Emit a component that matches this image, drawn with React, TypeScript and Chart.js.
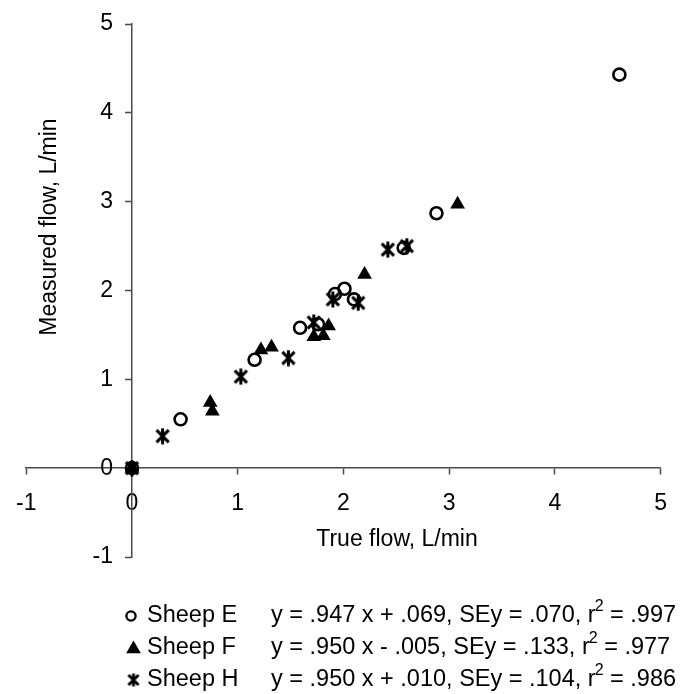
import React, { useEffect, useRef } from 'react';
import { Chart, registerables } from 'chart.js';

Chart.register(...registerables);

// ---- Data ----
const sheepEX = [0, 0.46, 1.16, 1.59, 1.76, 1.92, 2.01, 2.10, 2.57, 2.88, 4.61];
const sheepEY = [0, 0.55, 1.22, 1.58, 1.62, 1.96, 2.02, 1.90, 2.48, 2.87, 4.43];
const sheepFX = [0, 0.74, 0.76, 1.22, 1.32, 1.72, 1.81, 1.86, 2.20, 3.08];
const sheepFY = [0, 0.74, 0.64, 1.33, 1.36, 1.48, 1.49, 1.60, 2.18, 2.97];
const sheepHX = [0, 0.29, 1.03, 1.48, 1.72, 1.90, 2.14, 2.42, 2.60];
const sheepHY = [0, 0.36, 1.03, 1.24, 1.64, 1.90, 1.86, 2.46, 2.50];

const seriesNames = ['Sheep E', 'Sheep F', 'Sheep H'];
const eqPrefix = [
  'y = .947 x + .069, SEy = .070, r',
  'y = .950 x - .005, SEy = .133, r',
  'y = .950 x + .010, SEy = .104, r',
];
const eqSup = ['2', '2', '2'];
const eqSuffix = [' = .997', ' = .977', ' = .986'];

const axisMin = -1;
const axisMax = 5;
const xTitle = 'True flow, L/min';
const yTitle = 'Measured flow, L/min';

const FONT = '"Liberation Sans", Arial, Helvetica, sans-serif';
const FS = 23;
const LFS = 23.5;
const AXIS_COLOR = '#4a4a4a';
const TICK_LEN = 6;

function makeAsterisk(size: number, lw: number): HTMLCanvasElement {
  const c = document.createElement('canvas');
  c.width = size;
  c.height = size;
  const g = c.getContext('2d')!;
  const m = size / 2;
  const d = size * 0.36;
  g.strokeStyle = '#000';
  g.lineWidth = lw;
  g.lineCap = 'butt';
  g.beginPath();
  g.moveTo(m - d, m - d); g.lineTo(m + d, m + d);
  g.moveTo(m + d, m - d); g.lineTo(m - d, m + d);
  g.moveTo(m, 0.5); g.lineTo(m, size - 0.5);
  g.stroke();
  return c;
}

function toPoints(xs: number[], ys: number[]) {
  return xs.map((x, i) => ({ x, y: ys[i] }));
}

export default function App() {
  const ref = useRef<HTMLCanvasElement | null>(null);

  useEffect(() => {
    const canvas = ref.current;
    if (!canvas) return;
    const star = makeAsterisk(17, 3);
    const legendStar = makeAsterisk(14, 2.8);

    const drawMarker = (ctx: CanvasRenderingContext2D, kind: number, x: number, y: number) => {
      ctx.save();
      if (kind === 0) {
        ctx.beginPath();
        ctx.arc(x, y, 4.6, 0, Math.PI * 2);
        ctx.strokeStyle = '#000';
        ctx.lineWidth = 2.3;
        ctx.stroke();
      } else if (kind === 1) {
        const r = 8.5;
        ctx.beginPath();
        for (let k = 0; k < 3; k++) {
          const a = k * (2 * Math.PI / 3);
          const px = x + Math.sin(a) * r;
          const py = y + 1 - Math.cos(a) * r;
          if (k === 0) ctx.moveTo(px, py); else ctx.lineTo(px, py);
        }
        ctx.closePath();
        ctx.fillStyle = '#000';
        ctx.fill();
      } else {
        ctx.drawImage(legendStar, x - 7, y - 7);
      }
      ctx.restore();
    };

    const annotate = {
      id: 'annotate',
      afterDraw(chart: any) {
        const ctx: CanvasRenderingContext2D = chart.ctx;
        const ys = chart.scales.y;
        const xs = chart.scales.x;
        ctx.save();
        ctx.fillStyle = '#000';
        ctx.textBaseline = 'middle';
        // y tick labels, placed from the y scale
        ctx.font = `${FS}px ${FONT}`;
        ctx.textAlign = 'right';
        const axisX = xs.getPixelForValue(0);
        for (const t of ys.ticks) {
          ctx.fillText(String(t.value), axisX - TICK_LEN - 13, ys.getPixelForValue(t.value));
        }
        // axis titles
        ctx.textAlign = 'center';
        ctx.fillText(xTitle, 397, 540);
        ctx.save();
        ctx.translate(50, 227);
        ctx.rotate(-Math.PI / 2);
        ctx.fillText(yTitle, 0, 0);
        ctx.restore();
        // legend
        const rows = [616, 648, 680];
        for (let i = 0; i < 3; i++) {
          const y = rows[i];
          drawMarker(ctx, i, i === 0 ? 131 : 133.5, y);
          ctx.textAlign = 'left';
          ctx.font = `${LFS}px ${FONT}`;
          ctx.fillText(seriesNames[i], 147, y);
          let x = 271;
          ctx.fillText(eqPrefix[i], x, y);
          x += ctx.measureText(eqPrefix[i]).width;
          ctx.font = `${Math.round(LFS * 0.68)}px ${FONT}`;
          ctx.fillText(eqSup[i], x - 1, y - 9);
          x += ctx.measureText(eqSup[i]).width - 1;
          ctx.font = `${LFS}px ${FONT}`;
          ctx.fillText(eqSuffix[i], x, y);
        }
        ctx.restore();
      },
    };

    const chart = new Chart(canvas, {
      type: 'scatter',
      data: {
        datasets: [
          {
            label: seriesNames[0],
            data: toPoints(sheepEX, sheepEY),
            pointStyle: 'circle',
            pointRadius: 6,
            pointBorderWidth: 2.6,
            borderColor: '#000',
            backgroundColor: 'rgba(0,0,0,0)',
          },
          {
            label: seriesNames[1],
            data: toPoints(sheepFX, sheepFY),
            pointStyle: 'triangle',
            pointRadius: 8.5,
            pointBorderWidth: 0,
            borderColor: '#000',
            backgroundColor: '#000',
          },
          {
            label: seriesNames[2],
            data: toPoints(sheepHX, sheepHY),
            pointStyle: star,
            pointRadius: 8,
            borderColor: '#000',
            backgroundColor: '#000',
          },
        ],
      },
      options: {
        responsive: false,
        animation: false,
        events: [],
        layout: { padding: { left: 21, right: 7, top: 24, bottom: 137 } },
        plugins: {
          legend: { display: false },
          tooltip: { enabled: false },
          title: { display: false },
        },
        scales: {
          x: {
            type: 'linear',
            position: { y: 0 },
            min: axisMin,
            max: axisMax,
            ticks: {
              stepSize: 1,
              autoSkip: false,
              color: '#000',
              padding: 16,
              font: { family: FONT, size: FS },
              maxRotation: 0,
            },
            grid: {
              drawOnChartArea: false,
              drawTicks: true,
              tickLength: TICK_LEN,
              tickColor: AXIS_COLOR,
              tickWidth: 1.5,
            },
            border: { display: true, color: AXIS_COLOR, width: 1.5 },
            title: { display: false },
          },
          y: {
            type: 'linear',
            position: { x: 0 },
            min: axisMin,
            max: axisMax,
            ticks: {
              stepSize: 1,
              autoSkip: false,
              display: false,
              font: { family: FONT, size: FS },
            },
            grid: {
              drawOnChartArea: false,
              drawTicks: true,
              tickLength: TICK_LEN,
              tickColor: AXIS_COLOR,
              tickWidth: 1.5,
            },
            border: { display: true, color: AXIS_COLOR, width: 1.5 },
            title: { display: false },
          },
        },
      },
      plugins: [annotate],
    });

    return () => chart.destroy();
  }, []);

  return (
    <div style={{ position: 'absolute', left: 0, top: 0, width: 683, height: 694, background: '#fff' }}>
      <canvas ref={ref} width={683} height={694} style={{ display: 'block' }} />
    </div>
  );
}
